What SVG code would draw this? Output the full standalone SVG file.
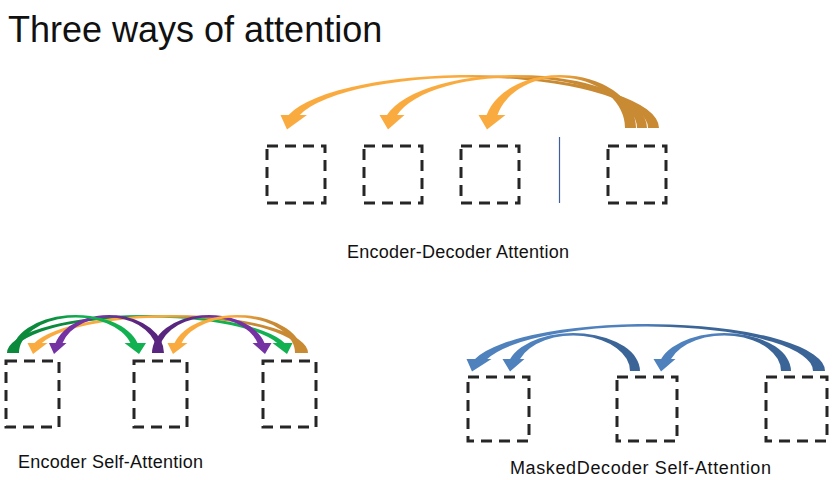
<svg xmlns="http://www.w3.org/2000/svg" width="835" height="480" viewBox="0 0 835 480">
<style>
.box{fill:none;stroke:#262626;stroke-width:3;stroke-dasharray:11 7}
.lbl{font-family:"Liberation Sans",Arial,sans-serif;font-size:18px;fill:#111}
.title{font-family:"Liberation Sans",Arial,sans-serif;font-size:36px;fill:#111}
</style>
<defs>
<linearGradient id="gT1" gradientUnits="userSpaceOnUse" x1="466" y1="0" x2="501" y2="0"><stop offset="0" stop-color="#FAAB40"/><stop offset="1" stop-color="#C98A34"/></linearGradient>
<linearGradient id="gT2" gradientUnits="userSpaceOnUse" x1="510" y1="0" x2="545" y2="0"><stop offset="0" stop-color="#FAAB40"/><stop offset="1" stop-color="#C98A34"/></linearGradient>
<linearGradient id="gT3" gradientUnits="userSpaceOnUse" x1="555" y1="0" x2="590" y2="0"><stop offset="0" stop-color="#FAAB40"/><stop offset="1" stop-color="#C98A34"/></linearGradient>
<linearGradient id="gG1" gradientUnits="userSpaceOnUse" x1="118" y1="0" x2="153" y2="0"><stop offset="0" stop-color="#0B8A3C"/><stop offset="1" stop-color="#11B050"/></linearGradient>
<linearGradient id="gG2" gradientUnits="userSpaceOnUse" x1="46" y1="0" x2="81" y2="0"><stop offset="0" stop-color="#0B8A3C"/><stop offset="1" stop-color="#11B050"/></linearGradient>
<linearGradient id="gP1" gradientUnits="userSpaceOnUse" x1="104" y1="0" x2="139" y2="0"><stop offset="0" stop-color="#7432A3"/><stop offset="1" stop-color="#58267E"/></linearGradient>
<linearGradient id="gP2" gradientUnits="userSpaceOnUse" x1="179" y1="0" x2="214" y2="0"><stop offset="0" stop-color="#58267E"/><stop offset="1" stop-color="#7432A3"/></linearGradient>
<linearGradient id="gO1" gradientUnits="userSpaceOnUse" x1="164" y1="0" x2="199" y2="0"><stop offset="0" stop-color="#FAAB40"/><stop offset="1" stop-color="#C98A34"/></linearGradient>
<linearGradient id="gO2" gradientUnits="userSpaceOnUse" x1="232" y1="0" x2="267" y2="0"><stop offset="0" stop-color="#FAAB40"/><stop offset="1" stop-color="#C98A34"/></linearGradient>
<linearGradient id="gB1" gradientUnits="userSpaceOnUse" x1="568" y1="0" x2="603" y2="0"><stop offset="0" stop-color="#4F81BD"/><stop offset="1" stop-color="#3B6597"/></linearGradient>
<linearGradient id="gB2" gradientUnits="userSpaceOnUse" x1="719" y1="0" x2="754" y2="0"><stop offset="0" stop-color="#4F81BD"/><stop offset="1" stop-color="#3B6597"/></linearGradient>
<linearGradient id="gB3" gradientUnits="userSpaceOnUse" x1="642" y1="0" x2="677" y2="0"><stop offset="0" stop-color="#4F81BD"/><stop offset="1" stop-color="#3B6597"/></linearGradient>
</defs>
<rect width="835" height="480" fill="#fff"/>
<text class="title" x="8" y="42">Three ways of attention</text>

<g id="connectors">
<path fill="url(#gT1)" d="M659,128 A188.1,53 0 0 0 288.55,115 L280.5,115 L287,129.5 L307,115 L299.77,115 A177.1,50.5 0 0 1 648,128 Z"/>
<path fill="url(#gT2)" d="M647,128 A132,53 0 0 0 387,115 L379.5,115 L388,129.5 L404.5,115 L397.11,115 A122,50.5 0 0 1 637,128 Z"/>
<path fill="url(#gT3)" d="M636,128 A75.86,53 0 0 0 486.6,115 L478.5,115 L487,129.5 L505.5,115 L497.47,115 A64.86,50.5 0 0 1 625,128 Z"/>

<path fill="url(#gG1)" d="M7,353 A141.28,38 0 0 1 284.58,343 L292.5,343 L287,354 L272.5,343 L277.12,343 A134.28,35.5 0 0 0 14,353 Z"/>
<path fill="url(#gO1)" d="M308,353 A139.24,38 0 0 0 34.43,343 L27.5,343 L33,354 L47.5,343 L41.87,343 A132.24,35.5 0 0 1 301,353 Z"/>
<path fill="url(#gP1)" d="M164,353 A55.2,38 0 0 0 55.55,343 L49,343 L54,354 L66.5,343 L62.55,343 A48.2,35.5 0 0 1 157,353 Z"/>
<path fill="url(#gP2)" d="M152,353 A57.24,38 0 0 1 264.46,343 L271.5,343 L265,354 L252.5,343 L257.45,343 A50.24,35.5 0 0 0 159,353 Z"/>
<path fill="url(#gG2)" d="M12,353 A63.86,38 0 0 1 137.47,343 L146,343 L139,354 L124.5,343 L130.42,343 A56.86,35.5 0 0 0 19,353 Z"/>
<path fill="url(#gO2)" d="M302,353 A64.88,38 0 0 0 174.53,343 L167.5,343 L173,354 L187.5,343 L181.58,343 A57.88,35.5 0 0 1 295,353 Z"/>

<path fill="url(#gB3)" d="M825,371 A177.94,47 0 0 0 475.02,359 L466.5,359 L472,371.5 L491.5,359 L487.27,359 A165.94,44.5 0 0 1 813,371 Z"/>
<path fill="url(#gB1)" d="M640,371 A66.64,38 0 0 0 510.13,359 L502.5,359 L510,371.5 L524.5,359 L520.05,359 A56.64,35.5 0 0 1 630,371 Z"/>
<path fill="url(#gB2)" d="M791,371 A66.64,38 0 0 0 661.13,359 L653.5,359 L661,371.5 L675.5,359 L671.05,359 A56.64,35.5 0 0 1 781,371 Z"/>
</g>

<g id="ed-divider"><line x1="559.5" y1="137" x2="559.5" y2="203" stroke="#3F5F9A" stroke-width="1.2"/></g>

<g id="ed-node1"><rect class="box" x="267" y="146" width="58" height="57"/></g>
<g id="ed-node2"><rect class="box" x="364" y="146" width="58" height="57"/></g>
<g id="ed-node3"><rect class="box" x="461" y="146" width="58" height="57"/></g>
<g id="ed-node4"><rect class="box" x="608" y="146" width="58" height="57"/></g>
<text class="lbl" x="347" y="258" textLength="222">Encoder-Decoder Attention</text>

<g id="es-node1"><rect class="box" x="6" y="361" width="53" height="66"/></g>
<g id="es-node2"><rect class="box" x="134" y="361" width="53" height="66"/></g>
<g id="es-node3"><rect class="box" x="263" y="361" width="53" height="66"/></g>
<text class="lbl" x="18" y="468" textLength="185">Encoder Self-Attention</text>

<g id="md-node1"><rect class="box" x="468" y="377" width="61" height="64"/></g>
<g id="md-node2"><rect class="box" x="617" y="377" width="60" height="64"/></g>
<g id="md-node3"><rect class="box" x="766" y="377" width="61" height="64"/></g>
<text class="lbl" x="510" y="474" textLength="261">MaskedDecoder Self-Attention</text>
</svg>
